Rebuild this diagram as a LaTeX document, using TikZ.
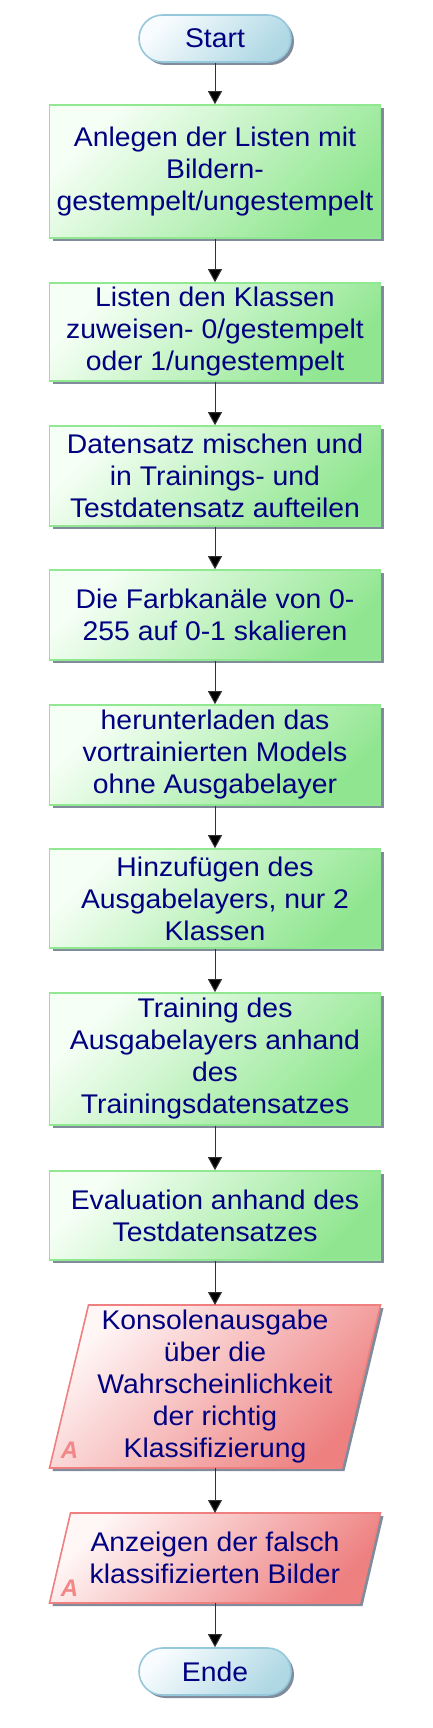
\documentclass[tikz,border=0pt]{standalone}
\usepackage{fontspec}
\setmainfont[FakeStretch=1.05]{Liberation Sans}
\newfontfamily\amarkfont[ItalicFont={Liberation Sans Bold Italic}]{Liberation Sans}
\usetikzlibrary{shadows,arrows.meta,backgrounds,calc}
\definecolor{navytxt}{RGB}{0,0,128}
\definecolor{boxborder}{RGB}{144,232,144}
\definecolor{boxtop}{RGB}{246,255,246}
\definecolor{boxbot}{RGB}{144,230,144}
\definecolor{termborder}{RGB}{150,200,220}
\definecolor{termtop}{RGB}{248,252,254}
\definecolor{termbot}{RGB}{175,216,228}
\definecolor{paraborder}{RGB}{240,128,128}
\definecolor{paratop}{RGB}{255,246,246}
\definecolor{parabot}{RGB}{238,128,128}
\definecolor{amarkc}{RGB}{242,135,135}
\definecolor{shadowc}{RGB}{128,140,155}
\definecolor{linec}{RGB}{50,50,50}
\tikzset{
  txt/.style={text=navytxt, font=\fontsize{27}{32}\selectfont, align=center, inner sep=0pt},
  shad/.style={drop shadow={shadow xshift=3pt, shadow yshift=-3pt, fill=shadowc, opacity=1}},
  procbox/.style={txt, shad, draw=boxborder, line width=1.6pt, top color=boxtop, bottom color=boxbot, shading angle=45, minimum width=331pt},
  term/.style={txt, shad, draw=termborder, line width=1.6pt, top color=termtop, bottom color=termbot, shading angle=45, minimum width=152pt, minimum height=47pt, rounded corners=23.5pt},
  iotext/.style={txt, minimum width=331pt, outer sep=0pt},
  parashape/.style={shad, draw=paraborder, line width=1.6pt, top color=paratop, bottom color=parabot, shading angle=45},
  amark/.style={text=amarkc, font=\amarkfont\fontsize{24}{24}\selectfont\itshape, inner sep=0pt},
  arr/.style={draw=linec, line width=1pt, -{Triangle[length=13pt,width=14pt,fill=black]}}
}
\begin{document}
\begin{tikzpicture}[x=1pt,y=-1pt]
\useasboundingbox (0,0) rectangle (432,1728);
\node[term] (start) at (215,38.5) {Start};
\node[procbox, minimum height=133pt] (b1) at (215,171.5) {Anlegen der Listen mit\\Bildern-\\gestempelt/ungestempelt};
\node[procbox, minimum height=98pt] (b2) at (215,332) {Listen den Klassen\\zuweisen- 0/gestempelt\\oder 1/ungestempelt};
\node[procbox, minimum height=100pt] (b3) at (215,476) {Datensatz mischen und\\in Trainings- und\\Testdatensatz aufteilen};
\node[procbox, minimum height=90pt] (b4) at (215,615) {Die Farbkanäle von 0-\\255 auf 0-1 skalieren};
\node[procbox, minimum height=100pt] (b5) at (215,755) {herunterladen das\\vortrainierten Models\\ohne Ausgabelayer};
\node[procbox, minimum height=99pt] (b6) at (215,898.5) {Hinzufügen des\\Ausgabelayers, nur 2\\Klassen};
\node[procbox, minimum height=132pt] (b7) at (215,1059) {Training des\\Ausgabelayers anhand\\des\\Trainingsdatensatzes};
\node[procbox, minimum height=89pt] (b8) at (215,1215.5) {Evaluation anhand des\\Testdatensatzes};
\node[iotext, minimum height=163pt] (p1) at (215,1386.5) {Konsolenausgabe\\über die\\Wahrscheinlichkeit\\der richtig\\Klassifizierung};
\node[iotext, minimum height=90pt] (p2) at (215,1558) {Anzeigen der falsch\\klassifizierten Bilder};
\node[term] (ende) at (215,1671.5) {Ende};
\begin{scope}[on background layer]
  \path[parashape] ($(p1.north west)+(39,0)$) -- (p1.north east) -- ($(p1.south east)+(-39,0)$) -- (p1.south west) -- cycle;
  \path[parashape] ($(p2.north west)+(21,0)$) -- (p2.north east) -- ($(p2.south east)+(-21,0)$) -- (p2.south west) -- cycle;
\end{scope}
\node[amark] (a1) at (69.5,1450.5) {A};
\node[amark] (a2) at (69.5,1588) {A};
\foreach \u/\v in {start/b1,b1/b2,b2/b3,b3/b4,b4/b5,b5/b6,b6/b7,b7/b8,b8/p1,p1/p2,p2/ende}
  \draw[arr] (\u) -- (\v);
\end{tikzpicture}
\end{document}
